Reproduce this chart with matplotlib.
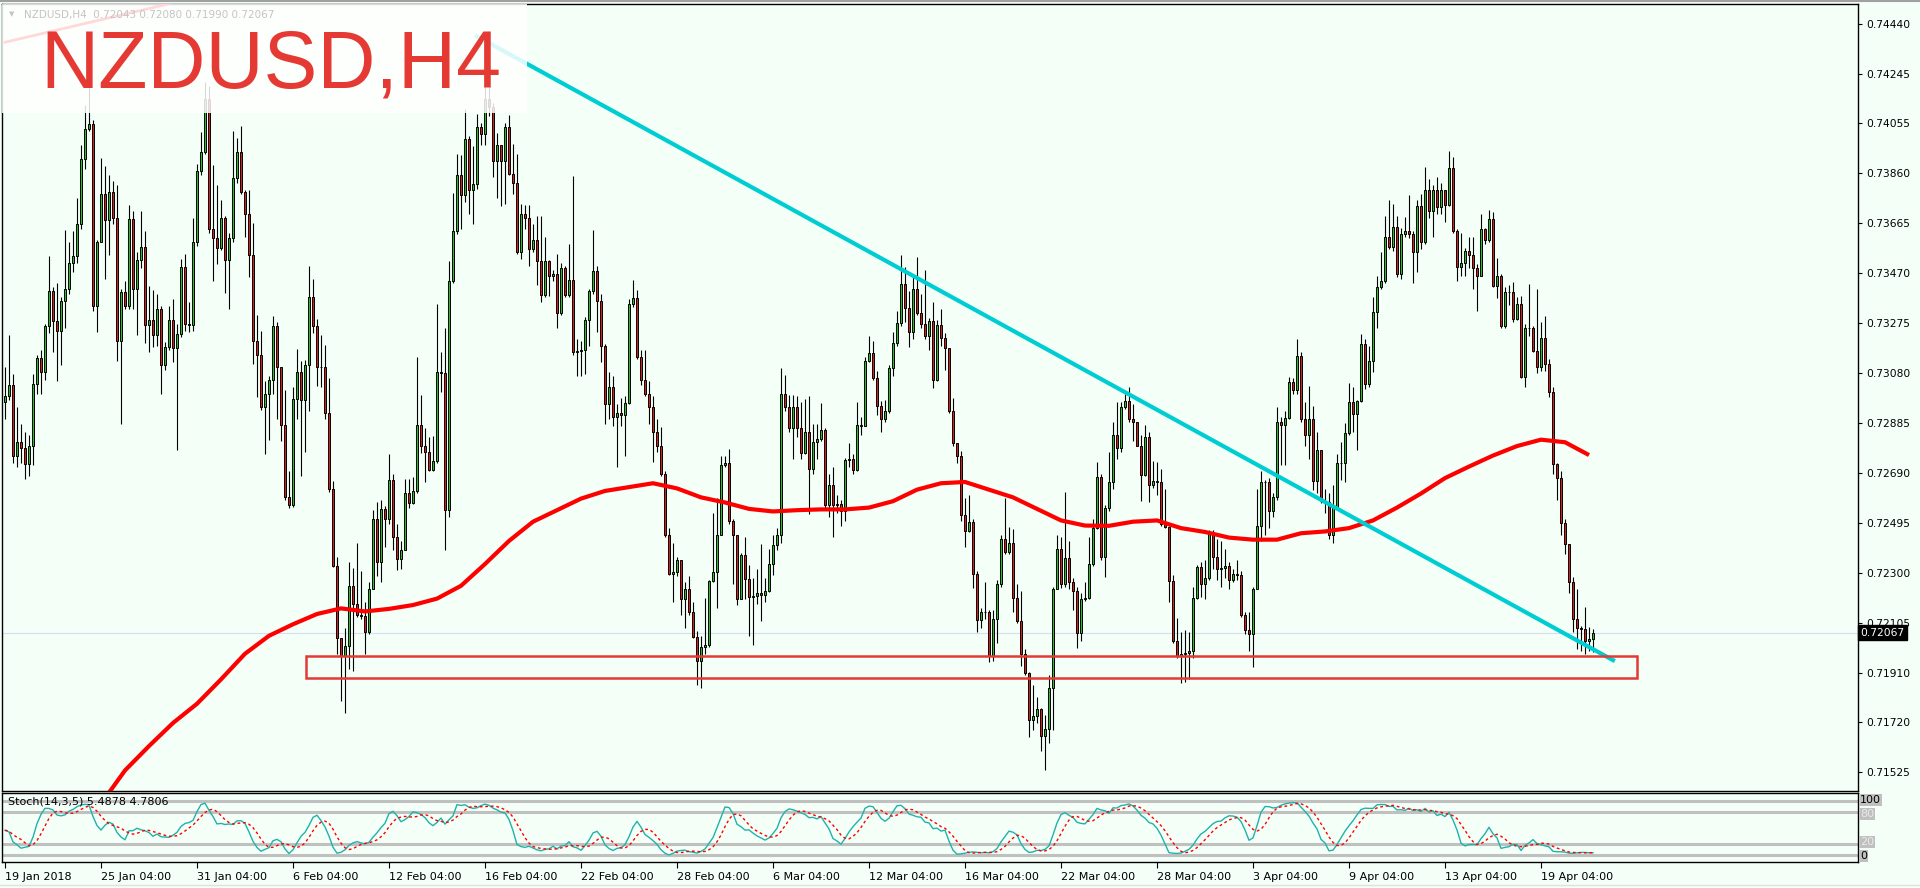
import numpy as np
import pandas as pd
import matplotlib
matplotlib.use('Agg')
import matplotlib.pyplot as plt
from matplotlib.patches import Rectangle
from matplotlib.lines import Line2D

# NZDUSD H4 candles, prices in 1e-5 units (open of each bar = previous close)
OPEN0 = 72966
CLOSE = [
    72992, 73034, 72755, 72811, 72789, 72726, 72794, 73039, 73139, 73085,
    73262, 73401, 73283, 73245, 73360, 73406, 73508, 73536, 73660, 73913,
    74032, 74052, 73342, 73592, 73778, 73677, 73785, 73685, 73206, 73396,
    73343, 73682, 73406, 73519, 73570, 73266, 73288, 73228, 73330, 73113,
    73181, 73288, 73178, 73232, 73494, 73271, 73266, 73589, 73868, 73942,
    74150, 73643, 73606, 73567, 73683, 73521, 73606, 73842, 73942, 73786,
    73700, 73540, 73206, 73149, 72949, 73000, 73051, 73262, 73102, 72877,
    72598, 72564, 72980, 73085, 72975, 73110, 73376, 73262, 73105, 73102,
    72924, 72628, 72329, 72045, 71977, 72014, 72251, 72180, 72137, 72132,
    72070, 72239, 72510, 72341, 72550, 72510, 72662, 72442, 72354, 72391,
    72611, 72574, 72620, 72877, 72797, 72772, 72701, 72735, 73085, 73081,
    72547, 73440, 73634, 73854, 73773, 73993, 73795, 73817, 74040, 74012,
    74150, 74116, 73905, 73968, 73905, 74040, 73858, 73820, 73553, 73699,
    73685, 73563, 73597, 73516, 73384, 73516, 73457, 73465, 73313, 73491,
    73384, 73443, 73161, 73164, 73169, 73288, 73398, 73477, 73359, 73186,
    72958, 73027, 72907, 72924, 72916, 72963, 73350, 73372, 73144, 73054,
    73000, 72949, 72848, 72794, 72687, 72447, 72298, 72302, 72349, 72197,
    72236, 72146, 72050, 71955, 72011, 72019, 72269, 72303, 72450, 72721,
    72730, 72501, 72447, 72200, 72371, 72276, 72205, 72209, 72222, 72214,
    72231, 72335, 72408, 72450, 72997, 72949, 72865, 72946, 72865, 72768,
    72848, 72704, 72811, 72822, 72856, 72564, 72645, 72564, 72569, 72543,
    72741, 72746, 72701, 72877, 72873, 73127, 73157, 73059, 72953, 72899,
    72932, 73098, 73198, 73274, 73426, 73335, 73240, 73409, 73313, 73271,
    73223, 73284, 73051, 73266, 73215, 73178, 72932, 72806, 72758, 72527,
    72462, 72498, 72298, 72117, 72149, 72146, 71977, 72121, 72256, 72434,
    72383, 72417, 72202, 72112, 71985, 71909, 71727, 71743, 71769, 71664,
    71693, 71850, 72239, 72395, 72256, 72357, 72264, 72231, 72066, 72197,
    72202, 72337, 72476, 72674, 72361, 72552, 72653, 72839, 72789, 72946,
    72970, 72902, 72890, 72797, 72682, 72831, 72645, 72658, 72653, 72493,
    72479, 72268, 72036, 71977, 71985, 71989, 71994, 72202, 72324, 72256,
    72281, 72455, 72361, 72315, 72319, 72327, 72273, 72298, 72293, 72137,
    72078, 72061, 72239, 72484, 72653, 72653, 72543, 72598, 72890, 72878,
    72904, 73046, 73014, 73147, 72902, 72839, 72899, 72658, 72780, 72581,
    72577, 72450, 72557, 72730, 72730, 72845, 72966, 72919, 72970, 73195,
    73037, 73127, 73316, 73414, 73440, 73609, 73572, 73651, 73465, 73621,
    73633, 73621, 73550, 73731, 73589, 73792, 73710, 73792, 73727, 73792,
    73736, 73880, 73634, 73494, 73508, 73555, 73541, 73491, 73460, 73643,
    73600, 73680, 73420, 73460, 73262, 73394, 73394, 73291, 73350, 73064,
    73254, 73254, 73164, 73102, 73217, 73115, 73005, 72726, 72670, 72496,
    72412, 72264, 72121, 72087, 72082, 72036, 72043, 72067,
]
HIGH = [
    73102, 73228, 73076, 72949, 72882, 72848, 72839, 73076, 73149, 73169,
    73271, 73538, 73415, 73431, 73377, 73638, 73589, 73634, 73761, 73968,
    74125, 74200, 74066, 73600, 73917, 73888, 73854, 73829, 73812, 73406,
    73440, 73736, 73710, 73550, 73710, 73633, 73420, 73403, 73389, 73343,
    73200, 73343, 73367, 73271, 73524, 73545, 73355, 73683, 73896, 74020,
    74215, 74200, 73891, 73812, 73756, 73693, 73626, 74023, 73998, 74045,
    73795, 73792, 73665, 73308, 73242, 73047, 73068, 73301, 73278, 73102,
    73012, 72696, 73027, 73174, 73127, 73132, 73499, 73448, 73291, 73228,
    73191, 73059, 72657, 72361, 72045, 72087, 72344, 72319, 72417, 72307,
    72188, 72264, 72547, 72577, 72586, 72560, 72763, 72687, 72493, 72425,
    72665, 72665, 72674, 73141, 72995, 72865, 72831, 72834, 73350, 73161,
    73254, 73516, 73783, 73934, 73930, 74108, 74006, 73964, 74091, 74057,
    74319, 74302, 74133, 74015, 73968, 74057, 74086, 73973, 73934, 73739,
    73736, 73736, 73663, 73693, 73693, 73609, 73519, 73482, 73545, 73508,
    73499, 73584, 73849, 73212, 73204, 73299, 73406, 73638, 73499, 73389,
    73195, 73085, 73068, 72958, 72983, 72992, 73367, 73443, 73403, 73169,
    73169, 73047, 72992, 72899, 72868, 72696, 72476, 72417, 72361, 72349,
    72264, 72290, 72188, 72073, 72053, 72202, 72273, 72535, 72594, 72755,
    72755, 72784, 72510, 72450, 72378, 72442, 72332, 72281, 72315, 72412,
    72281, 72395, 72450, 72476, 73098, 73071, 72995, 72995, 72992, 72966,
    72978, 72992, 72882, 72882, 72963, 72865, 72687, 72713, 72603, 72586,
    72750, 72806, 72763, 72966, 72907, 73144, 73223, 73206, 73088, 72971,
    72975, 73110, 73240, 73321, 73541, 73494, 73398, 73460, 73533, 73389,
    73482, 73296, 73355, 73288, 73330, 73237, 73178, 72983, 72806, 72777,
    72594, 72603, 72510, 72307, 72163, 72264, 72154, 72154, 72273, 72450,
    72594, 72479, 72472, 72256, 72231, 72002, 71913, 71864, 71816, 71774,
    71745, 71901, 72247, 72450, 72442, 72614, 72425, 72281, 72247, 72222,
    72264, 72442, 72510, 72733, 72687, 72564, 72772, 72890, 72966, 72966,
    73000, 73026, 72958, 72890, 72839, 72878, 72848, 72738, 72733, 72704,
    72628, 72484, 72293, 72124, 72070, 72078, 72070, 72247, 72332, 72341,
    72349, 72467, 72467, 72434, 72425, 72395, 72344, 72315, 72349, 72307,
    72146, 72146, 72247, 72628, 72699, 72662, 72670, 72611, 72949, 72907,
    72932, 73064, 73059, 73212, 73161, 72966, 73031, 72953, 72848, 72767,
    72628, 72611, 72645, 72763, 72811, 72885, 73042, 73026, 72975, 73234,
    73212, 73186, 73376, 73460, 73550, 73693, 73753, 73741, 73693, 73646,
    73690, 73775, 73634, 73753, 73778, 73883, 73837, 73812, 73846, 73820,
    73795, 73944, 73922, 73643, 73626, 73567, 73609, 73609, 73504, 73702,
    73646, 73714, 73707, 73528, 73465, 73414, 73423, 73435, 73376, 73381,
    73271, 73426, 73262, 73409, 73279, 73301, 73135, 73026, 72730, 72699,
    72510, 72412, 72286, 72236, 72095, 72168, 72090, 72080,
]
LOW = [
    72899, 72975, 72730, 72713, 72730, 72665, 72679, 72721, 73000, 73000,
    73051, 73237, 73161, 73047, 73113, 73257, 73389, 73474, 73508, 73643,
    73875, 74023, 73321, 73240, 73589, 73448, 73541, 73660, 73127, 72882,
    73330, 73330, 73330, 73228, 73491, 73198, 73161, 73183, 73186, 73000,
    73093, 73169, 73122, 72780, 73220, 73245, 73240, 73245, 73575, 73854,
    73935, 73626, 73440, 73504, 73558, 73392, 73330, 73592, 73820, 73778,
    73612, 73453, 73115, 72987, 72936, 72763, 72817, 73000, 72902, 72814,
    72586, 72552, 72557, 72899, 72679, 72772, 72932, 73237, 73029, 73026,
    72902, 72614, 72324, 71985, 71799, 71752, 71926, 71918, 72129, 72121,
    71985, 72061, 72236, 72290, 72264, 72400, 72493, 72391, 72310, 72315,
    72388, 72552, 72569, 72611, 72767, 72653, 72696, 72696, 72730, 73004,
    72388, 72518, 73431, 73621, 73643, 73748, 73702, 73663, 73798, 73968,
    73968, 74083, 73846, 73761, 73731, 73741, 73854, 73778, 73545, 73524,
    73643, 73499, 73550, 73423, 73355, 73376, 73381, 73440, 73254, 73305,
    73376, 73376, 73152, 73068, 73068, 73076, 73186, 73389, 73240, 73122,
    72882, 72899, 72873, 72713, 72873, 72755, 72958, 73338, 73135, 73034,
    72992, 72882, 72733, 72772, 72679, 72442, 72293, 72188, 72290, 72137,
    72087, 72137, 72045, 71864, 71850, 71985, 72011, 72264, 72163, 72450,
    72713, 72493, 72256, 72175, 72197, 72197, 72053, 72019, 72180, 72112,
    72188, 72226, 72293, 72391, 72417, 72932, 72848, 72746, 72831, 72746,
    72763, 72530, 72687, 72746, 72814, 72552, 72518, 72439, 72535, 72484,
    72501, 72713, 72687, 72696, 72839, 72899, 73122, 73051, 72916, 72848,
    72890, 72924, 73068, 73186, 73262, 73279, 73183, 73212, 73305, 73254,
    73212, 73169, 73020, 73047, 73186, 73093, 72924, 72797, 72730, 72501,
    72400, 72459, 72242, 72070, 72087, 72121, 71952, 71955, 72028, 72247,
    72374, 72374, 72146, 72104, 71938, 71901, 71661, 71689, 71715, 71605,
    71532, 71638, 71689, 72236, 72242, 72247, 72239, 72154, 72006, 72033,
    72192, 72197, 72327, 72472, 72349, 72286, 72543, 72628, 72746, 72772,
    72941, 72890, 72814, 72794, 72581, 72679, 72577, 72631, 72603, 72484,
    72476, 72188, 72028, 71968, 71870, 71875, 71887, 71968, 72197, 72205,
    72197, 72273, 72315, 72273, 72247, 72281, 72239, 72264, 72273, 72129,
    72061, 71994, 71935, 72236, 72425, 72450, 72476, 72518, 72586, 72721,
    72721, 72899, 73000, 73000, 72890, 72794, 72743, 72625, 72611, 72574,
    72535, 72434, 72417, 72552, 72662, 72653, 72839, 72848, 72780, 72966,
    73017, 73026, 73085, 73257, 73409, 73431, 73562, 73555, 73453, 73448,
    73609, 73606, 73431, 73474, 73562, 73584, 73685, 73609, 73702, 73702,
    73668, 73731, 73626, 73440, 73457, 73457, 73491, 73406, 73321, 73457,
    73584, 73592, 73414, 73372, 73254, 73257, 73347, 73279, 73288, 73059,
    73026, 73223, 73161, 73081, 73088, 73088, 72987, 72687, 72586, 72450,
    72374, 72222, 72070, 72002, 71994, 71985, 71994, 71990,
]

# moving average read every 6 bars starting at bar 24
MA_START, MA_STEP = 24, 6
MA = [
    71400, 71530, 71625, 71715, 71790, 71885, 71985, 72055, 72100, 72140,
    72162, 72150, 72160, 72175, 72200, 72250, 72335, 72425, 72500, 72545,
    72590, 72620, 72635, 72650, 72630, 72595, 72575, 72550, 72540, 72545,
    72548, 72548, 72555, 72580, 72625, 72650, 72655, 72625, 72595, 72550,
    72505, 72485, 72484, 72500, 72505, 72475, 72460, 72438, 72430, 72430,
    72455, 72462, 72475, 72505, 72555, 72610, 72670, 72715, 72758, 72795,
    72820, 72810, 72760,
]

TREND_BARS = [118, 402]
TREND_PRICES = [0.74393, 0.71960]
UPPER_BARS = [0, 41]
UPPER_PRICES = [0.74370, 0.74520]
BOX_BARS = [75.25, 408]
BOX_PRICES = [0.71889, 0.71977]
LAST_PRICE = 0.72067

PRICE_TICKS = [0.74440, 0.74245, 0.74055, 0.73860, 0.73665, 0.73470, 0.73275,
               0.73080, 0.72885, 0.72690, 0.72495, 0.72300, 0.72105, 0.71910,
               0.71720, 0.71525]
DATE_BARS = list(range(0, 385, 24))
DATE_LABELS = ['19 Jan 2018', '25 Jan 04:00', '31 Jan 04:00', '6 Feb 04:00',
               '12 Feb 04:00', '16 Feb 04:00', '22 Feb 04:00', '28 Feb 04:00',
               '6 Mar 04:00', '12 Mar 04:00', '16 Mar 04:00', '22 Mar 04:00',
               '28 Mar 04:00', '3 Apr 04:00', '9 Apr 04:00', '13 Apr 04:00',
               '19 Apr 04:00']

BG = '#f4fff8'
BULL = '#22c322'
BEAR = '#dd1c1c'

n = min(len(CLOSE), len(HIGH), len(LOW))
c = np.array(CLOSE[:n]) / 1e5
o = np.concatenate([[OPEN0 / 1e5], c[:-1]])
h = np.maximum(np.array(HIGH[:n]) / 1e5, np.maximum(o, c))
l = np.minimum(np.array(LOW[:n]) / 1e5, np.minimum(o, c))
x = np.arange(n)

# Stoch(14,3,5)
hh = pd.Series(h).rolling(14, min_periods=1).max()
ll = pd.Series(l).rolling(14, min_periods=1).min()
num = (pd.Series(c) - ll).rolling(3, min_periods=1).sum()
den = (hh - ll).rolling(3, min_periods=1).sum()
k = 100 * num / den
d = k.rolling(5, min_periods=1).mean()

W, H = 1920, 888
fig = plt.figure(figsize=(W / 100, H / 100), dpi=100, facecolor=BG)
ax = fig.add_axes([2 / W, 1 - 791 / H, 1856 / W, 787 / H])
sax = fig.add_axes([2 / W, 1 - 862 / H, 1856 / W, 69 / H])
for a in (ax, sax):
    a.set_facecolor(BG)
    for s in a.spines.values():
        s.set_color('black')
        s.set_linewidth(1)
    a.set_xlim(-0.75, 463.25)

# price panel
ax.axhline(LAST_PRICE, color='#d6dcf2', lw=0.8, zorder=1)
ax.vlines(x, l, h, color='black', lw=0.8, zorder=2)
bottom = np.minimum(o, c)
height = np.maximum(np.abs(c - o), 0.000004)
up = c >= o
ax.bar(x[up], height[up], bottom=bottom[up], width=0.6, color=BULL,
       edgecolor='black', linewidth=0.7, zorder=3)
ax.bar(x[~up], height[~up], bottom=bottom[~up], width=0.6, color=BEAR,
       edgecolor='black', linewidth=0.7, zorder=3)

ma_x = MA_START + MA_STEP * np.arange(len(MA))
ax.plot(ma_x, np.array(MA) / 1e5, color='#ff0000', lw=3, zorder=4,
        solid_capstyle='butt')
ax.plot(TREND_BARS, TREND_PRICES, color='#00cdd2', lw=3, zorder=4)
ax.plot(UPPER_BARS, UPPER_PRICES, color='#ff0000', lw=2, zorder=4)
ax.add_patch(Rectangle((BOX_BARS[0], BOX_PRICES[0]), BOX_BARS[1] - BOX_BARS[0],
                       BOX_PRICES[1] - BOX_PRICES[0], fill=False,
                       edgecolor='#e53935', lw=1.8, zorder=5))

ax.set_ylim(0.714497, 0.745192)
ax.set_xticks([])
ax.yaxis.tick_right()
ax.set_yticks(PRICE_TICKS)
ax.set_yticklabels([f'{v:.5f}' for v in PRICE_TICKS])
ax.tick_params(axis='y', direction='out', length=3, width=0.8, pad=3,
               labelsize=7.7, colors='black')
ax.text(1.0012, LAST_PRICE, f'{LAST_PRICE:.5f}', transform=ax.get_yaxis_transform(),
        color='white', fontsize=7.7, va='center', ha='left', zorder=10,
        bbox=dict(boxstyle='square,pad=0.25', fc='black', ec='black'))

# label box
ax.add_patch(Rectangle((0, 0.8615), 0.283, 0.14, transform=ax.transAxes,
                       facecolor='white', alpha=0.85, edgecolor='none', zorder=6))
fig.text(40 / W, 1 - 88 / H, 'NZDUSD,H4', fontsize=58, color='#e53a33',
         family=['Liberation Sans', 'DejaVu Sans'], va='baseline', ha='left',
         zorder=7)
fig.text(24 / W, 1 - 15 / H, 'NZDUSD,H4  0.72043 0.72080 0.71990 0.72067',
         fontsize=7.5, color='#c4c4c4', va='center', ha='left')
fig.text(9 / W, 1 - 14 / H, '\u25bc', fontsize=5, color='#c4c4c4',
         va='center', ha='left')

# stochastic panel
ylo, yhi = -12.3, 114.2
sax.set_ylim(ylo, yhi)
for lv in (100, 80, 20, 0):
    sax.axhline(lv, color='#c0c0c0', lw=2.2, zorder=1)
sax.plot(x, k, color='#20b2aa', lw=1, zorder=2)
sax.plot(x, d, color='#ff0000', lw=1, ls=(0, (2, 2)), zorder=3)
sax.set_yticks([])
sax.text(0.003, 0.88, 'Stoch(14,3,5) 5.4878 4.7806', transform=sax.transAxes,
         fontsize=8, color='black', va='center', ha='left')
for lv, lab, col in ((100, '100', 'black'), (80, '80', '#e8e8e8'),
                     (20, '20', '#e8e8e8'), (0, '0', 'black')):
    yy = lv + (2 if lv == 100 else -4 if lv == 80 else 4 if lv == 20 else -2)
    sax.text(1.0012, yy, lab, transform=sax.get_yaxis_transform(), fontsize=8,
             color=col, va='center', ha='left', clip_on=False,
             bbox=dict(boxstyle='square,pad=0.1', fc='#c0c0c0', ec='none'))
sax.set_xticks(DATE_BARS)
sax.set_xticklabels(DATE_LABELS)
sax.tick_params(axis='x', direction='out', length=4, width=0.8, pad=3,
                labelsize=8, colors='black')
for lbl in sax.get_xticklabels():
    lbl.set_ha('left')

fig.add_artist(Line2D([0, 1], [1 - 0.8 / H] * 2, color='#a0a0a0', lw=1.5))
fig.add_artist(Line2D([0, 1], [1 - 885 / H] * 2, color='#e0e0e0', lw=1))

fig.savefig('out.png', dpi=100, facecolor=BG)
